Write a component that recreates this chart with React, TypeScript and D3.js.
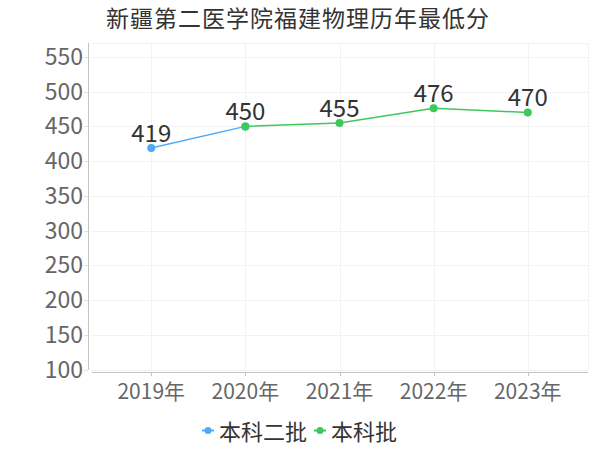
import React from "react";
import * as d3 from "d3";

// data
const years = ["2019年", "2020年", "2021年", "2022年", "2023年"];
const seriesNames = ["本科二批", "本科批"];
const benke2Scores: (number | null)[] = [419, 450, null, null, null];
const benkeScores: (number | null)[] = [null, 450, 455, 476, 470];
const yTicks = [100, 150, 200, 250, 300, 350, 400, 450, 500, 550];
const title = "新疆第二医学院福建物理历年最低分";

const W = 600;
const H = 450;
const FONT = "'Noto Sans CJK SC', 'Noto Sans', sans-serif";
const colors = ["#4eaaf8", "#3ec75a"];

export default function App() {
  const plot = { left: 89, right: 588, top: 43, bottom: 370 };

  const x = d3
    .scalePoint<string>()
    .domain(years)
    .range([91, plot.right])
    .padding(0.64);

  const y = d3.scaleLinear().domain([100, 570]).range([369.6, plot.top]);

  const line = d3
    .line<number | null>()
    .defined((d) => d != null)
    .x((_, i) => x(years[i]) as number)
    .y((d) => y(d as number));

  const series = [benke2Scores, benkeScores];

  // one label per point: skip a value hidden under the same value of a later series
  const hidden = (si: number, i: number) =>
    series.slice(si + 1).some((s) => s[i] != null && s[i] === series[si][i]);

  return (
    <svg
      width={W}
      height={H}
      style={{ display: "block", position: "absolute", left: 0, top: 0, background: "#fff" }}
      fontFamily={FONT}
    >
      <text x={298} y={27} textAnchor="middle" fontSize={23} letterSpacing={1} fill="#333">
        {title}
      </text>

      {/* grid */}
      <g stroke="#f2f2f2" strokeWidth={1}>
        {yTicks.map((t) => (
          <line key={t} x1={plot.left + 2} x2={plot.right} y1={Math.round(y(t)) + 0.5} y2={Math.round(y(t)) + 0.5} />
        ))}
        <line x1={plot.left + 2} x2={plot.right} y1={plot.top + 0.5} y2={plot.top + 0.5} />
        {years.map((c) => (
          <line key={c} x1={Math.round(x(c)!) + 0.5} x2={Math.round(x(c)!) + 0.5} y1={plot.top} y2={plot.bottom} />
        ))}
        <line x1={plot.right + 0.5} x2={plot.right + 0.5} y1={plot.top} y2={plot.bottom} />
      </g>

      {/* y axis */}
      <line x1={plot.left - 0.5} x2={plot.left - 0.5} y1={plot.top} y2={plot.bottom} stroke="#c4c4c4" />
      {yTicks.map((t) => (
        <g key={t}>
          <line x1={plot.left - 5} x2={plot.left - 1} y1={Math.round(y(t)) + 0.5} y2={Math.round(y(t)) + 0.5} stroke="#e0e0e0" />
          <text x={plot.left - 6} y={y(t) + 8} textAnchor="end" fontSize={23} fill="#666">
            {t}
          </text>
        </g>
      ))}

      {/* x axis */}
      <line x1={92} x2={plot.right} y1={372.5} y2={372.5} stroke="#c4c4c4" />
      {years.map((c) => (
        <g key={c}>
          <line x1={Math.round(x(c)!) + 0.5} x2={Math.round(x(c)!) + 0.5} y1={373} y2={376} stroke="#c4c4c4" />
          <text x={x(c)} y={399} textAnchor="middle" fontSize={21} fill="#666">
            {c}
          </text>
        </g>
      ))}

      {/* series */}
      {series.map((vals, si) => (
        <g key={si}>
          <path d={line(vals) ?? ""} fill="none" stroke={colors[si]} strokeWidth={1.5} />
          {vals.map((v, i) =>
            v == null ? null : (
              <circle key={i} cx={x(years[i])} cy={y(v)} r={4} fill={colors[si]} />
            )
          )}
        </g>
      ))}
      {series.map((vals, si) =>
        vals.map((v, i) =>
          v == null || hidden(si, i) ? null : (
            <text key={`${si}-${i}`} x={x(years[i])} y={y(v) - 6} textAnchor="middle" fontSize={24} fill="#333">
              {v}
            </text>
          )
        )
      )}

      {/* legend */}
      <g>
        {seriesNames.map((name, i) => {
          const lx = i === 0 ? 202 : 314;
          return (
            <g key={name}>
              <line x1={lx} x2={lx + 12} y1={430.5} y2={430.5} stroke={colors[i]} strokeWidth={2} />
              <circle cx={lx + 6} cy={430.5} r={3.5} fill={colors[i]} />
              <text x={lx + 17} y={440} fontSize={22} fill="#333">
                {name}
              </text>
            </g>
          );
        })}
      </g>
    </svg>
  );
}
